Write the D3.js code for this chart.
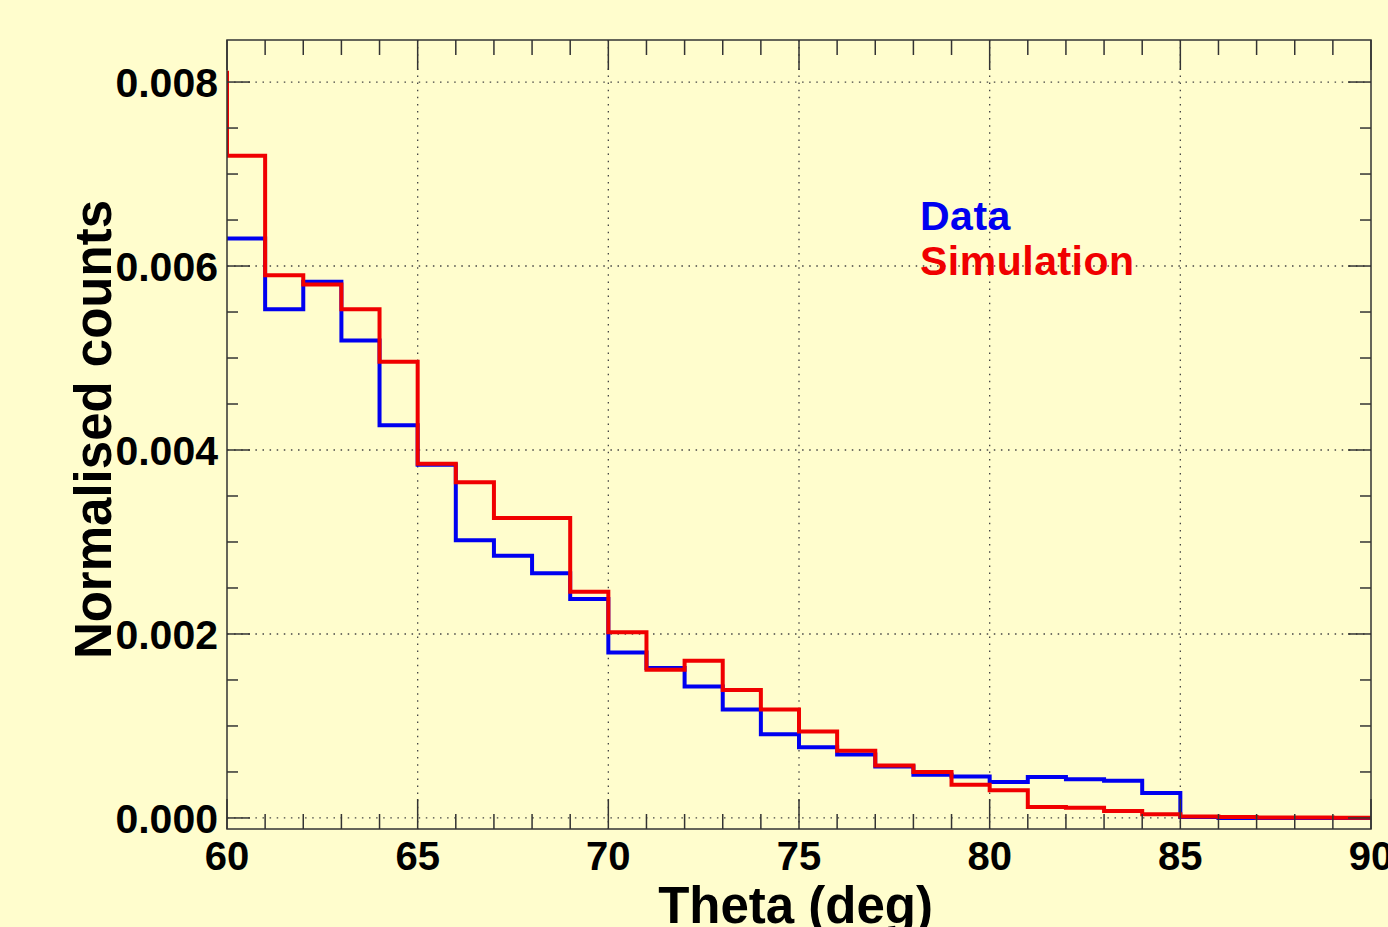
<!DOCTYPE html>
<html>
<head>
<meta charset="utf-8">
<script src="https://cdn.jsdelivr.net/npm/d3@7"></script>
<style>
    body { margin: 0; background: #fffdcd; overflow: hidden; }
    text { font-family: "Liberation Sans", Arial, sans-serif; font-weight: bold; }
</style>
</head>
<body>
<svg id="chart" width="1388" height="927"></svg>
<script>
// bins are 1 degree wide, from 60 to 90
var binEdges = [60, 61, 62, 63, 64, 65, 66, 67, 68, 69, 70, 71, 72, 73, 74, 75,
                76, 77, 78, 79, 80, 81, 82, 83, 84, 85, 86, 87, 88, 89, 90];

var dataCounts = [0.00630, 0.00553, 0.00583, 0.00519, 0.00427, 0.00384, 0.00302, 0.00285,
                  0.00266, 0.00238, 0.00180, 0.00163, 0.00143, 0.00118, 0.00091, 0.00077,
                  0.00069, 0.00056, 0.00047, 0.00045, 0.00039, 0.000445, 0.00042, 0.000405,
                  0.00027, 0.00001, 0, 0, 0, 0];

var simCounts = [0.00720, 0.00590, 0.00580, 0.00553, 0.00496, 0.00385, 0.00365, 0.00326,
                 0.00326, 0.00246, 0.00202, 0.00161, 0.00171, 0.00139, 0.00118, 0.00094,
                 0.00073, 0.00057, 0.00050, 0.00036, 0.00030, 0.00012, 0.00011, 0.000076,
                 0.00004, 0.000015, 0.00001, 0.000006, 0.000004, 0.000003];

// bin just left of the range, only its edge shows at x=60
var simUnderflow = 0.0081;

var xTicks = [60, 65, 70, 75, 80, 85, 90];
var yTicks = [0, 0.002, 0.004, 0.006, 0.008];
var yTickLabels = ["0.000", "0.002", "0.004", "0.006", "0.008"];

var legendNames = ["Data", "Simulation"];
var legendColors = ["#0000f0", "#f00000"];

var svg = d3.select("#chart");

// frame edges (don't call it "top", window.top is taken)
var fLeft = 227, fRight = 1371, fTop = 40, fBottom = 829;

var xScale = d3.scaleLinear().domain([60, 90]).range([fLeft, fRight]);
var yScale = d3.scaleLinear().domain([-0.00012, 0.008457]).range([fBottom, fTop]);

// dotted grid
var grid = svg.append("g").attr("stroke", "#444").attr("stroke-width", 1.3)
    .attr("stroke-dasharray", "1.5,5.6");
grid.selectAll("line.gx").data(xTicks.slice(1, -1)).enter().append("line")
    .attr("x1", function (d) { return xScale(d); })
    .attr("x2", function (d) { return xScale(d); })
    .attr("y1", fTop).attr("y2", fBottom);
grid.selectAll("line.gy").data(yTicks).enter().append("line")
    .attr("x1", fLeft).attr("x2", fRight)
    .attr("y1", function (d) { return yScale(d); })
    .attr("y2", function (d) { return yScale(d); });

svg.append("clipPath").attr("id", "frameClip")
    .append("rect").attr("x", fLeft).attr("y", fTop)
    .attr("width", fRight - fLeft).attr("height", fBottom - fTop);

// step line for a histogram
function histLine(counts, before) {
    var pts = [];
    if (before !== undefined) {
        pts.push([binEdges[0] - 1, before]);
        pts.push([binEdges[0], before]);
    }
    for (var i = 0; i < counts.length; i++) {
        pts.push([binEdges[i], counts[i]]);
        pts.push([binEdges[i + 1], counts[i]]);
    }
    return d3.line()
        .x(function (d) { return xScale(d[0]); })
        .y(function (d) { return yScale(d[1]); })(pts);
}

var plot = svg.append("g").attr("clip-path", "url(#frameClip)");
plot.append("path")
    .attr("d", histLine(dataCounts))
    .attr("fill", "none").attr("stroke", legendColors[0]).attr("stroke-width", 4);
plot.append("path")
    .attr("d", histLine(simCounts, simUnderflow))
    .attr("fill", "none").attr("stroke", legendColors[1]).attr("stroke-width", 4);

// frame and ticks
var axisColor = "#333";
svg.append("rect").attr("x", fLeft).attr("y", fTop)
    .attr("width", fRight - fLeft).attr("height", fBottom - fTop)
    .attr("fill", "none").attr("stroke", axisColor).attr("stroke-width", 1.5);

var xMinor = d3.range(60, 91, 1);
var yMinor = d3.range(0, 0.00846, 0.0005);

var ticks = svg.append("g").attr("stroke", axisColor).attr("stroke-width", 1.5);
ticks.selectAll("line.xb").data(xMinor).enter().append("line")
    .attr("x1", function (d) { return xScale(d); })
    .attr("x2", function (d) { return xScale(d); })
    .attr("y1", fBottom)
    .attr("y2", function (d) { return fBottom - (d % 5 === 0 ? 30 : 15); });
ticks.selectAll("line.xt").data(xMinor).enter().append("line")
    .attr("x1", function (d) { return xScale(d); })
    .attr("x2", function (d) { return xScale(d); })
    .attr("y1", fTop)
    .attr("y2", function (d) { return fTop + (d % 5 === 0 ? 30 : 15); });
ticks.selectAll("line.yl").data(yMinor).enter().append("line")
    .attr("y1", function (d) { return yScale(d); })
    .attr("y2", function (d) { return yScale(d); })
    .attr("x1", fLeft)
    .attr("x2", function (d, i) { return fLeft + (i % 4 === 0 ? 23 : 11); });
ticks.selectAll("line.yr").data(yMinor).enter().append("line")
    .attr("y1", function (d) { return yScale(d); })
    .attr("y2", function (d) { return yScale(d); })
    .attr("x1", fRight)
    .attr("x2", function (d, i) { return fRight - (i % 4 === 0 ? 23 : 11); });

// tick labels
svg.selectAll("text.xl").data(xTicks).enter().append("text")
    .attr("x", function (d) { return xScale(d); })
    .attr("y", 870)
    .attr("text-anchor", "middle")
    .attr("font-size", 40)
    .text(function (d) { return d; });

svg.selectAll("text.yl").data(yTicks).enter().append("text")
    .attr("x", 218)
    .attr("y", function (d) { return yScale(d) + 15; })
    .attr("text-anchor", "end")
    .attr("font-size", 41)
    .text(function (d, i) { return yTickLabels[i]; });

// axis titles
svg.append("text")
    .attr("x", 933).attr("y", 923)
    .attr("text-anchor", "end")
    .attr("font-size", 51)
    .text("Theta (deg)");

svg.append("text")
    .attr("transform", "translate(111,200) rotate(-90)")
    .attr("text-anchor", "end")
    .attr("font-size", 51)
    .text("Normalised counts");

// legend
svg.selectAll("text.leg").data(legendNames).enter().append("text")
    .attr("x", 920)
    .attr("y", function (d, i) { return 230 + i * 45; })
    .attr("font-size", 41)
    .attr("letter-spacing", 0.5)
    .attr("fill", function (d, i) { return legendColors[i]; })
    .text(function (d) { return d; });
</script>
</body>
</html>
